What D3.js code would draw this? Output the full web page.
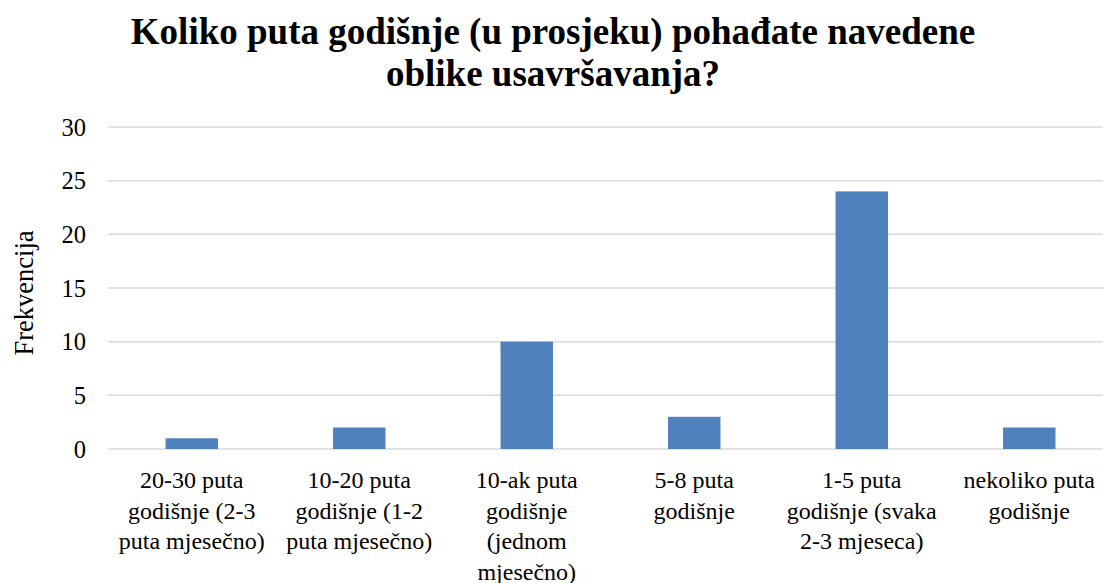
<html>
<head>
<script src="https://d3js.org/d3.v7.min.js"></script>
</head>
<body style="margin:0">
<svg class="chart" width="1103" height="583"></svg>
<script>
// data
const categories = ["20-30 puta godišnje (2-3 puta mjesečno)",
                    "10-20 puta godišnje (1-2 puta mjesečno)",
                    "10-ak puta godišnje (jednom mjesečno)",
                    "5-8 puta godišnje",
                    "1-5 puta godišnje (svaka 2-3 mjeseca)",
                    "nekoliko puta godišnje"];
const labelLines = [["20-30 puta", "godišnje (2-3", "puta mjesečno)"],
                    ["10-20 puta", "godišnje (1-2", "puta mjesečno)"],
                    ["10-ak puta", "godišnje", "(jednom", "mjesečno)"],
                    ["5-8 puta", "godišnje"],
                    ["1-5 puta", "godišnje (svaka", "2-3 mjeseca)"],
                    ["nekoliko puta", "godišnje"]];
const values = [1, 2, 10, 3, 24, 2];
const yTicks = [0, 5, 10, 15, 20, 25, 30];
const titleLines = ["Koliko puta godišnje (u prosjeku) pohađate navedene",
                    "oblike usavršavanja?"];
const yTitle = "Frekvencija";

const serif = "'Liberation Serif', 'Times New Roman', serif";
const svg = d3.select(".chart");

const x = d3.scaleBand().domain(categories).range([108, 1113])
  .paddingInner(0.687).paddingOuter(0.3435);
const y = d3.scaleLinear().domain([0, 30]).range([449, 127]);

// gridlines
svg.append("g").selectAll("line")
  .data(yTicks)
  .enter().append("line")
    .attr("x1", 108).attr("x2", 1113)
    .attr("y1", d => y(d)).attr("y2", d => y(d))
    .attr("stroke", "#d9d9d9").attr("stroke-width", 1.5);

// y tick labels
svg.append("g").selectAll("text")
  .data(yTicks)
  .enter().append("text")
    .attr("x", 86).attr("y", d => y(d))
    .attr("dy", "0.35em")
    .attr("text-anchor", "end")
    .style("font-family", serif)
    .style("font-size", "24.5px")
    .text(d => d);

// bars
svg.append("g").selectAll("rect")
  .data(values)
  .enter().append("rect")
    .attr("x", (d, i) => x(categories[i]))
    .attr("width", x.bandwidth())
    .attr("y", d => y(d))
    .attr("height", d => y(0) - y(d))
    .attr("fill", "#4f81bd");

// category labels
const lab = svg.append("g").selectAll("text")
  .data(labelLines)
  .enter().append("text")
    .attr("text-anchor", "middle")
    .style("font-family", serif)
    .style("font-size", "24px")
    .attr("x", (d, i) => x(categories[i]) + x.bandwidth() / 2)
    .attr("y", 488);
lab.selectAll("tspan")
  .data(d => d)
  .enter().append("tspan")
    .attr("x", function() { return this.parentNode.getAttribute("x"); })
    .attr("dy", (d, i) => i == 0 ? 0 : 30.6)
    .text(d => d);

// y axis title
svg.append("text")
  .attr("transform", "translate(33,293) rotate(-90)")
  .attr("text-anchor", "middle")
  .style("font-family", serif)
  .style("font-size", "26.5px")
  .text(yTitle);

// title
svg.append("g").selectAll("text")
  .data(titleLines)
  .enter().append("text")
    .attr("x", 553)
    .attr("y", (d, i) => 43.5 + i * 42.5)
    .attr("text-anchor", "middle")
    .style("font-family", serif)
    .style("font-size", "37px")
    .style("font-weight", "bold")
    .text(d => d);
</script>
</body>
</html>
